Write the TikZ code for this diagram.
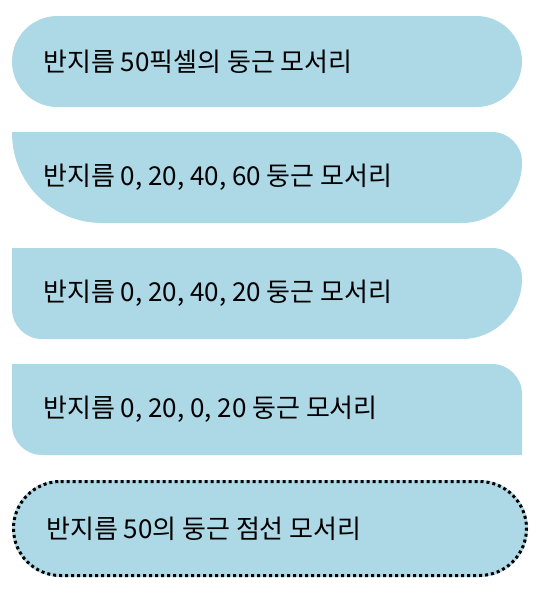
\documentclass[tikz,border=0pt]{standalone}
\usepackage{fontspec}
\newfontfamily\kr{Noto Sans CJK KR}
\definecolor{boxblue}{RGB}{173,216,230}
\tikzset{
  boxfill/.style={fill=boxblue, draw=none},
  dotborder/.style={draw=black, line width=3pt, dash pattern=on 3pt off 3pt, line cap=butt},
  label/.style={anchor=west, inner sep=0pt, font=\kr\fontsize{26}{30}\selectfont, text=black}
}
\begin{document}
\begin{tikzpicture}[x=1pt,y=1pt]
\useasboundingbox (0,0) rectangle (556,-616);
% Box 1: fully rounded
\fill[boxfill] (57.5,-16) -- (476.5,-16) arc[start angle=90,end angle=-90,radius=45.5]
  -- (57.5,-107) arc[start angle=270,end angle=90,radius=45.5] -- cycle;
\node[label] (t1) at (43,-61.5) {반지름 50픽셀의 둥근 모서리};
% Box 2: 0, 30, 60, 90
\fill[boxfill] (12,-132) -- (492,-132) arc[start angle=90,end angle=0,radius=30]
  -- (522,-163) arc[start angle=0,end angle=-90,radius=60]
  -- (102,-223) arc[start angle=-90,end angle=-180,radius=90]
  -- cycle;
\node[label] (t2) at (43,-177.5) {반지름 0, 20, 40, 60 둥근 모서리};
% Box 3: 0, 30, 60, 30
\fill[boxfill] (12,-248) -- (492,-248) arc[start angle=90,end angle=0,radius=30]
  -- (522,-279) arc[start angle=0,end angle=-90,radius=60]
  -- (42,-339) arc[start angle=-90,end angle=-180,radius=30]
  -- cycle;
\node[label] (t3) at (43,-293.5) {반지름 0, 20, 40, 20 둥근 모서리};
% Box 4: 0, 30, 0, 30
\fill[boxfill] (12,-364) -- (492,-364) arc[start angle=90,end angle=0,radius=30]
  -- (522,-455) -- (42,-455) arc[start angle=-90,end angle=-180,radius=30]
  -- cycle;
\node[label] (t4) at (43,-409.5) {반지름 0, 20, 0, 20 둥근 모서리};
% Box 5: dotted border, fully rounded
\fill[boxfill] (60.5,-480) -- (479.5,-480) arc[start angle=90,end angle=-90,radius=48.5]
  -- (60.5,-577) arc[start angle=270,end angle=90,radius=48.5] -- cycle;
\draw[dotborder] (60.5,-481.5) -- (479.5,-481.5) arc[start angle=90,end angle=-90,radius=47]
  -- (60.5,-575.5) arc[start angle=270,end angle=90,radius=47] -- cycle;
\node[label] (t5) at (46,-528.5) {반지름 50의 둥근 점선 모서리};
\end{tikzpicture}
\end{document}
